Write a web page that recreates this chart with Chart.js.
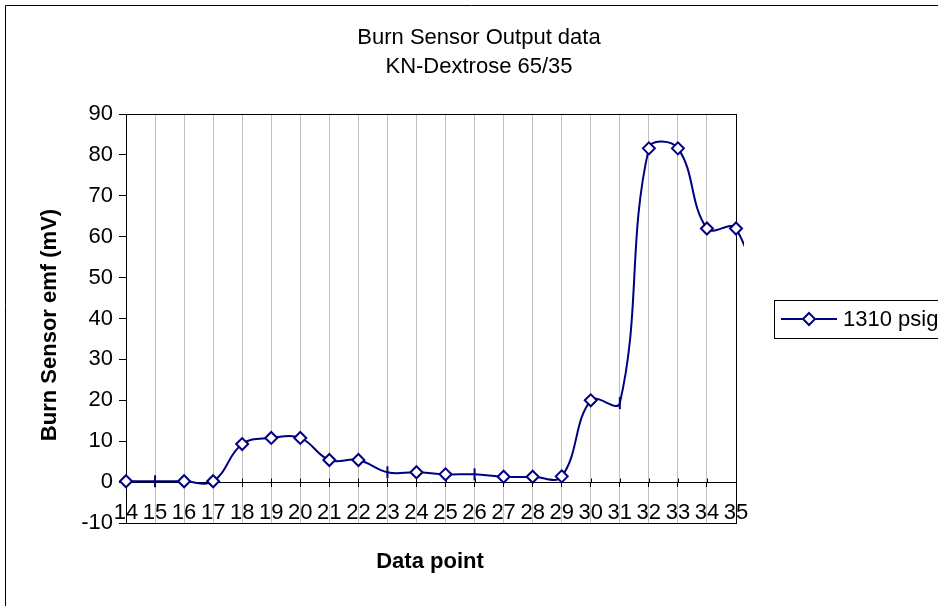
<!DOCTYPE html>
<html>
<head>
<meta charset="utf-8">
<script src="https://cdn.jsdelivr.net/npm/chart.js@4.4.0/dist/chart.umd.min.js"></script>
<style>
  html, body { margin: 0; padding: 0; background: #fff; }
</style>
</head>
<body>
<canvas id="chart" width="938" height="606"></canvas>
<script>
// data points 14..35 (36 is only the stub of line running off the right edge)
var categories = ["14", "15", "16", "17", "18", "19", "20", "21", "22", "23", "24",
  "25", "26", "27", "28", "29", "30", "31", "32", "33", "34", "35", "36"];
var emf1310 = [0.2, 0.2, 0.2, 0.2, 9.3, 10.8, 10.8, 5.4, 5.4, 2.4, 2.4,
  1.9, 1.9, 1.3, 1.3, 1.4, 20.0, 19.3, 81.6, 81.6, 62.0, 62.0, 38];
var barMarkerPoints = ["15", "23", "26", "31"];
var lastShown = "35";
var seriesLabel = "1310 psig";
var titleLines = ["Burn Sensor Output data", "KN-Dextrose 65/35"];
var xTitle = "Data point";
var yTitle = "Burn Sensor emf (mV)";
var yMin = -10, yMax = 90, yStep = 10;

var NAVY = "#000080";
var FONT = "'Liberation Sans', Arial, sans-serif";
var FS = 22;

var pointStyles = categories.map(function (c) {
  return barMarkerPoints.indexOf(c) >= 0 ? "line" : "rectRot";
});
var pointRotations = categories.map(function (c) {
  return barMarkerPoints.indexOf(c) >= 0 ? 90 : 0;
});
var pointRadii = categories.map(function (c, i) {
  return i > categories.indexOf(lastShown) ? 0 : 6;
});

var excelLook = {
  id: "excelLook",
  beforeDraw: function (chart) {
    var ctx = chart.ctx;
    ctx.save();
    ctx.fillStyle = "#fff";
    ctx.fillRect(0, 0, chart.width, chart.height);
    ctx.strokeStyle = "#000";
    ctx.lineWidth = 1;
    ctx.beginPath();
    ctx.moveTo(5.5, chart.height);
    ctx.lineTo(5.5, 5.5);
    ctx.lineTo(chart.width, 5.5);
    ctx.stroke();
    ctx.restore();
  },
  beforeDatasetsDraw: function (chart) {
    var ctx = chart.ctx, a = chart.chartArea;
    var xs = chart.scales.x, ys = chart.scales.y;
    ctx.save();
    ctx.strokeStyle = "#000";
    ctx.lineWidth = 1;
    ctx.strokeRect(Math.round(a.left) + 0.5, Math.round(a.top) + 0.5,
      Math.round(a.right - a.left), Math.round(a.bottom - a.top));
    // upper half of the crossing tick marks on the x axis
    var y0 = Math.round(ys.getPixelForValue(0)) + 0.5;
    ctx.beginPath();
    for (var i = 0; i <= categories.indexOf(lastShown); i++) {
      var px = Math.round(xs.getPixelForValue(i)) + 0.5;
      ctx.moveTo(px, y0 - 4);
      ctx.lineTo(px, y0);
    }
    ctx.stroke();
    ctx.restore();
  },
  afterDraw: function (chart) {
    var ctx = chart.ctx;
    ctx.save();
    ctx.fillStyle = "#000";
    ctx.textAlign = "center";
    ctx.textBaseline = "middle";
    ctx.font = FS + "px " + FONT;
    ctx.fillText(titleLines[0], 479, 38);
    ctx.fillText(titleLines[1], 479, 67);

    ctx.font = "bold " + FS + "px " + FONT;
    ctx.fillText(xTitle, 430, 562);
    ctx.save();
    ctx.translate(50, 325);
    ctx.rotate(-Math.PI / 2);
    ctx.fillText(yTitle, 0, 0);
    ctx.restore();

    // legend box
    ctx.strokeStyle = "#000";
    ctx.lineWidth = 1;
    ctx.strokeRect(774.5, 300.5, 200, 38);
    ctx.strokeStyle = NAVY;
    ctx.lineWidth = 2;
    ctx.beginPath();
    ctx.moveTo(781, 319);
    ctx.lineTo(837, 319);
    ctx.stroke();
    ctx.beginPath();
    ctx.moveTo(809, 313);
    ctx.lineTo(815, 319);
    ctx.lineTo(809, 325);
    ctx.lineTo(803, 319);
    ctx.closePath();
    ctx.fillStyle = "#fff";
    ctx.fill();
    ctx.stroke();
    ctx.fillStyle = "#000";
    ctx.textAlign = "left";
    ctx.font = FS + "px " + FONT;
    ctx.fillText(chart.data.datasets[0].label, 843, 320);
    ctx.restore();
  }
};

new Chart(document.getElementById("chart").getContext("2d"), {
  type: "line",
  data: {
    labels: categories,
    datasets: [
      {
        label: seriesLabel,
        data: emf1310,
        borderColor: NAVY,
        borderWidth: 2,
        backgroundColor: "#fff",
        fill: false,
        tension: 0.4,
        pointStyle: pointStyles,
        pointRotation: pointRotations,
        pointRadius: pointRadii,
        pointBorderWidth: 2,
        pointBorderColor: NAVY,
        pointBackgroundColor: "#fff",
        clip: { left: 10, top: 10, right: 8, bottom: 10 }
      }
    ]
  },
  options: {
    responsive: false,
    devicePixelRatio: 1,
    animation: false,
    events: [],
    layout: { padding: { left: 0, top: 114, right: 202, bottom: 83 } },
    plugins: {
      legend: { display: false },
      title: { display: false },
      tooltip: { enabled: false }
    },
    scales: {
      x: {
        type: "category",
        position: { y: 0 },
        offset: false,
        // stop the axis at the last labelled point but keep the line running on
        afterDataLimits: function (scale) {
          scale.max = categories.indexOf(lastShown);
        },
        grid: {
          color: "#c0c0c0",
          lineWidth: 1,
          tickColor: "#000",
          tickLength: 4
        },
        border: { color: "#000", width: 1 },
        ticks: {
          color: "#000",
          font: { family: FONT, size: FS },
          padding: 14,
          autoSkip: false,
          maxRotation: 0
        }
      },
      y: {
        position: "left",
        min: yMin,
        max: yMax,
        grid: {
          drawOnChartArea: false,
          tickColor: "#000",
          tickLength: 7
        },
        border: { color: "#000", width: 1 },
        ticks: {
          stepSize: yStep,
          color: "#000",
          font: { family: FONT, size: FS },
          padding: 6
        },
        afterFit: function (scale) { scale.width = 126; }
      }
    }
  },
  plugins: [excelLook]
});
</script>
</body>
</html>
